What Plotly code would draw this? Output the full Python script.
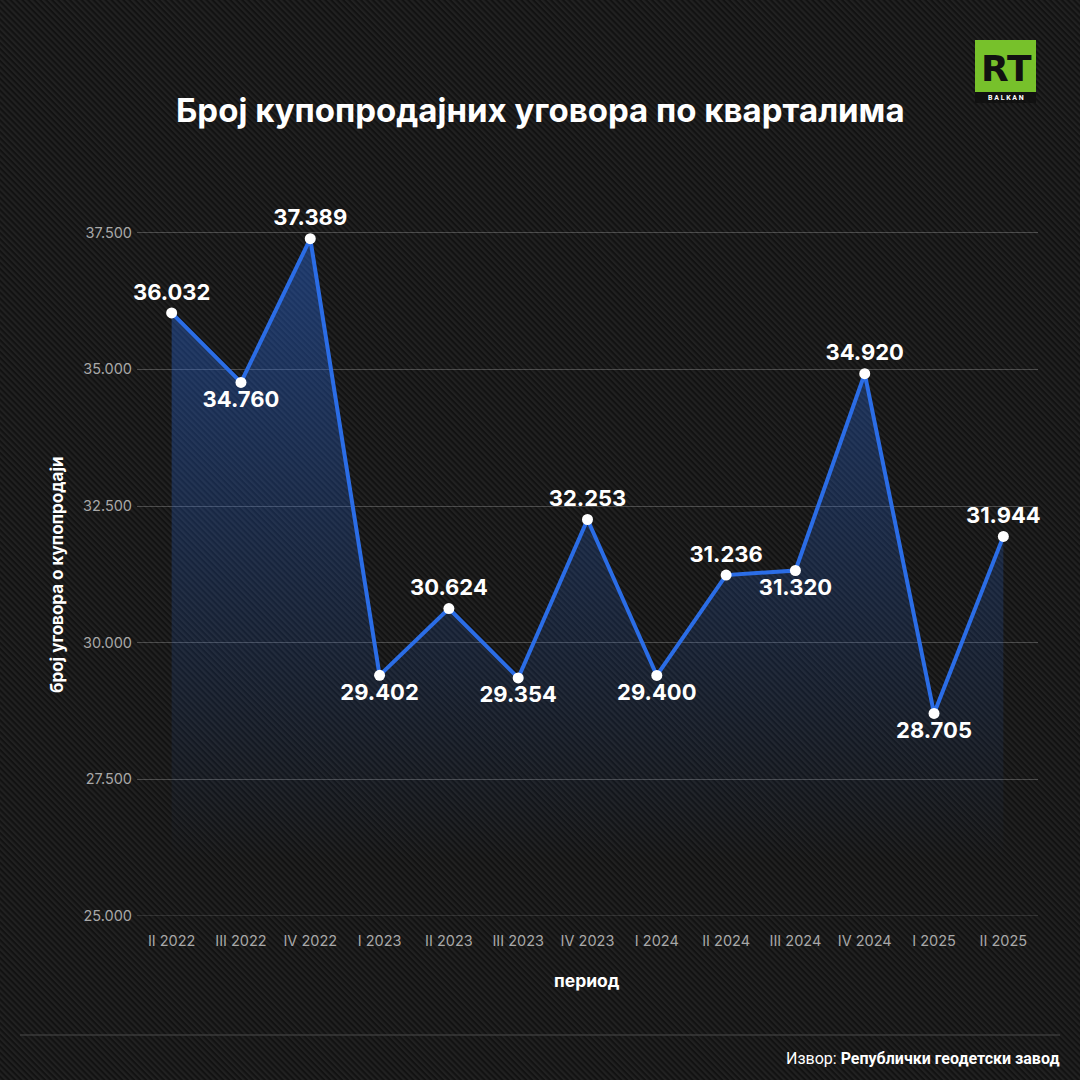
import base64
import plotly.graph_objects as go

periods = ["II 2022", "III 2022", "IV 2022", "I 2023", "II 2023", "III 2023", "IV 2023",
           "I 2024", "II 2024", "III 2024", "IV 2024", "I 2025", "II 2025"]
contracts = [36032, 34760, 37389, 29402, 30624, 29354, 32253, 29400, 31236, 31320, 34920, 28705, 31944]
label_pos = ["top center", "bottom center", "top center", "bottom center", "top center",
             "bottom center", "top center", "bottom center", "top center", "bottom center",
             "top center", "bottom center", "top center"]
y_ticks = [25000, 27500, 30000, 32500, 35000, 37500]

W = H = 1080
ML, MR, MT, MB = 137, 42, 178, 164
PW = W - ML - MR
PH = H - MT - MB

svg = (
    '<svg xmlns="http://www.w3.org/2000/svg" width="1080" height="1080">'
    '<defs><pattern id="p" width="4.2" height="4.2" patternUnits="userSpaceOnUse" '
    'patternTransform="rotate(-45)">'
    '<rect width="4.2" height="4.2" fill="#121212"/>'
    '<rect width="2.1" height="4.2" fill="#212121"/>'
    '</pattern></defs>'
    '<rect width="1080" height="1080" fill="url(#p)"/></svg>'
)
bg_src = "data:image/svg+xml;base64," + base64.b64encode(svg.encode()).decode()

def px_x(p):
    return (p - ML) / PW

def px_y(p):
    return (H - MB - p) / PH

fig = go.Figure()
fig.add_trace(go.Scatter(
    x=periods, y=contracts,
    mode="lines+markers+text",
    line=dict(color="#2b6de6", width=4),
    marker=dict(color="white", size=11),
    text=[f"{v:,}".replace(",", ".") for v in contracts],
    textposition=label_pos,
    textfont=dict(family="Inter", size=22, color="white", weight="bold"),
    fill="tozeroy",
    fillgradient=dict(
        type="vertical",
        colorscale=[[0, "rgba(43,109,230,0)"], [1, "rgba(43,109,230,0.42)"]],
        start=26000, stop=37400,
    ),
    cliponaxis=False,
    hoverinfo="skip",
    showlegend=False,
))

fig.update_layout(
    width=W, height=H,
    margin=dict(l=ML, r=MR, t=MT, b=MB),
    paper_bgcolor="#161616",
    plot_bgcolor="rgba(0,0,0,0)",
    separators=",.",
    font=dict(family="Inter", color="#b0b0b0"),
    images=[dict(source=bg_src, xref="paper", yref="paper",
                 x=px_x(0), y=px_y(0), sizex=W / PW, sizey=H / PH,
                 xanchor="left", yanchor="top", sizing="stretch", layer="below")],
    xaxis=dict(range=[-0.5, 12.5], showgrid=False, zeroline=False, showline=False,
               ticks="", ticklabelstandoff=14,
               tickfont=dict(family="Inter", size=14.5, color="#a8a8a8"),
               fixedrange=True),
    yaxis=dict(range=[25000, 38500], tickvals=y_ticks, tickformat=",d",
               showgrid=True, gridcolor="rgba(255,255,255,0.22)", gridwidth=1,
               zeroline=False, showline=False, ticks="", ticklabelstandoff=4,
               tickfont=dict(family="Inter", size=14.5, color="#a8a8a8"),
               fixedrange=True),
    shapes=[
        dict(type="line", xref="paper", yref="y", x0=0, x1=1,
             y0=y_ticks[0], y1=y_ticks[0], line=dict(color="rgba(255,255,255,0.22)", width=1)),
        dict(type="line", xref="paper", yref="paper", x0=px_x(20), x1=px_x(1060),
             y0=px_y(1035), y1=px_y(1035), line=dict(color="#4a4a4a", width=1)),
        dict(type="rect", xref="paper", yref="paper", x0=px_x(975), x1=px_x(1036),
             y0=px_y(92), y1=px_y(40), fillcolor="#77c12b", line=dict(width=0)),
        dict(type="rect", xref="paper", yref="paper", x0=px_x(975), x1=px_x(1036),
             y0=px_y(103), y1=px_y(92), fillcolor="#111111", line=dict(width=0)),
    ],
    annotations=[
        dict(text="Број купопродајних уговора по кварталима", xref="paper", yref="paper",
             x=px_x(540), y=px_y(110), showarrow=False, xanchor="center", yanchor="middle",
             font=dict(family="Inter", size=33, color="white", weight="bold")),
        dict(text="број уговора о купопродаји", xref="paper", yref="paper",
             x=px_x(57), y=px_y(575), showarrow=False, textangle=-90,
             xanchor="center", yanchor="middle",
             font=dict(family="Inter", size=17, color="white", weight="bold")),
        dict(text="период", xref="paper", yref="paper",
             x=px_x(587), y=px_y(980), showarrow=False, xanchor="center", yanchor="middle",
             font=dict(family="Inter", size=17.5, color="white", weight="bold")),
        dict(text="Извор: <b>Републички геодетски завод</b>", xref="paper", yref="paper",
             x=px_x(1061), y=px_y(1058), showarrow=False, xanchor="right", yanchor="middle",
             font=dict(family="Roboto", size=16, color="white")),
        dict(text="<b>RT</b>", xref="paper", yref="paper",
             x=px_x(1006), y=px_y(69), showarrow=False, xanchor="center", yanchor="middle",
             font=dict(family="DejaVu Sans", size=36, color="#111111")),
        dict(text="<b>B A L K A N</b>", xref="paper", yref="paper",
             x=px_x(1005.5), y=px_y(97.5), showarrow=False, xanchor="center", yanchor="middle",
             font=dict(family="Roboto", size=7, color="white")),
    ],
)

fig.write_html("out.html", config={"displayModeBar": False},
               post_script="document.body.style.margin='0';document.body.style.overflow='hidden';")
